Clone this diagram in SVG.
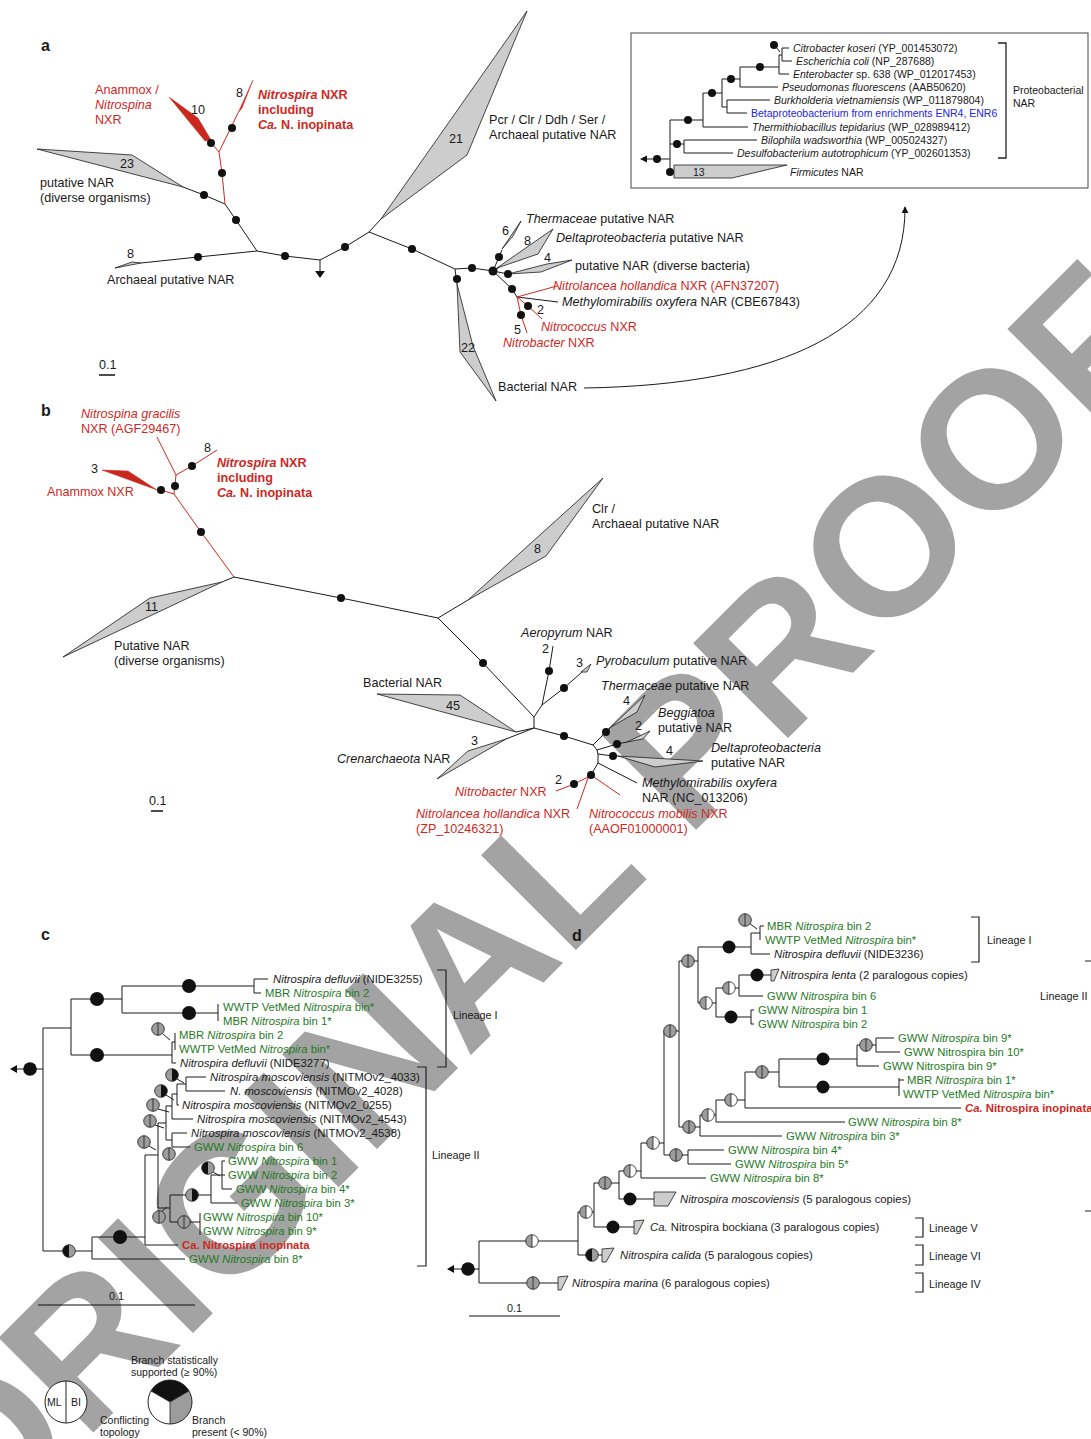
<svg xmlns="http://www.w3.org/2000/svg" width="1091" height="1439" viewBox="0 0 1091 1439">
<style>
text{font-family:"Liberation Sans",Arial,Helvetica,sans-serif;fill:#1a1a1a}
.s12{font-size:12.6px}
.s11{font-size:11.3px}
.s10{font-size:10.5px}
.sL{font-size:10.8px}
.lab{font-size:16px;font-weight:bold}
.r{fill:#d0281e}
.gr{fill:#1f7a1f}
.bl{fill:#2424e6}
.i{font-style:italic}
.b{font-weight:bold}
.ln{stroke:#1a1a1a;stroke-width:1;fill:none}
.rl{stroke:#d0281e;stroke-width:1;fill:none}
.wg{fill:#cdcdcd;stroke:#1a1a1a;stroke-width:0.8;stroke-linejoin:round}
.rw{fill:#c8281e;stroke:#c8281e;stroke-width:0.5}
.dt{fill:#111}
.wm{font-family:"Liberation Sans",Arial,sans-serif;font-weight:bold;fill:#a3a3a3}
</style>
<defs>
<g id="gg"><circle r="6.3" fill="#9c9c9c"/><path d="M0,-6.3V6.3" stroke="#1a1a1a" stroke-width="0.8"/><circle r="6.3" fill="none" stroke="#1a1a1a" stroke-width="0.8"/></g>
<g id="gw"><path d="M0,-6.3A6.3,6.3 0 0 0 0,6.3Z" fill="#9c9c9c"/><path d="M0,-6.3A6.3,6.3 0 0 1 0,6.3Z" fill="#fff"/><path d="M0,-6.3V6.3" stroke="#1a1a1a" stroke-width="0.8"/><circle r="6.3" fill="none" stroke="#1a1a1a" stroke-width="0.8"/></g>
<g id="gk"><path d="M0,-6.3A6.3,6.3 0 0 0 0,6.3Z" fill="#9c9c9c"/><path d="M0,-6.3A6.3,6.3 0 0 1 0,6.3Z" fill="#111"/><circle r="6.3" fill="none" stroke="#1a1a1a" stroke-width="0.8"/></g>
<g id="kg"><path d="M0,-6.3A6.3,6.3 0 0 0 0,6.3Z" fill="#111"/><path d="M0,-6.3A6.3,6.3 0 0 1 0,6.3Z" fill="#9c9c9c"/><circle r="6.3" fill="none" stroke="#1a1a1a" stroke-width="0.8"/></g>
<marker id="ah" viewBox="0 0 10 10" refX="9" refY="5" markerWidth="7" markerHeight="7" orient="auto"><path d="M0,0L10,5L0,10Z" fill="#111"/></marker>
</defs>

<g id="watermark"><text class="wm" font-size="195" transform="translate(-23,1549) rotate(-45)">ORIGINAL PROOF</text></g>

<!-- PANEL A -->
<g id="panel-a">
<text class="lab" x="41" y="51">a</text>
<g id="a-edges">
<polyline class="ln" points="183,187 204,195 225,204 236,220 257,251"/>
<polyline class="ln" points="257,251 198,257 141,263"/>
<polyline class="ln" points="257,251 285,256 320,260"/>
<line class="ln" x1="320" y1="260" x2="320" y2="272"/>
<polygon points="315,271 325,271 320,278" fill="#111"/>
<polyline class="ln" points="320,260 345,247 369,232 381,219"/>
<polyline class="ln" points="369,232 412,249 455,269 472,268 493,271"/>
<line class="ln" x1="455" y1="269" x2="457" y2="284"/>
<polyline class="ln" points="493,271 499,257 502,250"/>
<line class="ln" x1="493" y1="271" x2="498" y2="268"/>
<line class="ln" x1="493" y1="271" x2="508" y2="274"/>
<polyline class="ln" points="493,271 512,289 517,297 558,302"/>
<polyline class="rl" points="208,139 219,152 238,113"/>
<polyline class="rl" points="219,152 222,173 225,204"/>
<polyline class="rl" points="517,297 557,286"/>
<polyline class="rl" points="517,297 528,306 542,319"/>
<polyline class="rl" points="517,297 521,315 527,333"/>
<path class="ln" d="M584,388 C780,385 906,330 905,207" marker-end="url(#ah)"/>
</g>
<g id="a-anammox"><polygon class="rw" points="169,97 198,118 211,140 205,141"/><text class="s12" x="191" y="114">10</text>
<text class="s12 r" x="95" y="94">Anammox /</text><text class="s12 r i" x="95" y="109">Nitrospina</text><text class="s12 r" x="95" y="124">NXR</text></g>
<g id="a-nitrospira"><polygon class="rw" points="238,113 253,80 242,108"/><text class="s12" x="236" y="97">8</text>
<text class="s12 r b" x="258" y="99"><tspan class="i">Nitrospira</tspan> NXR</text><text class="s12 r b" x="258" y="114">including</text><text class="s12 r b" x="258" y="129"><tspan class="i">Ca.</tspan> N. inopinata</text></g>
<g id="a-putative"><polygon class="wg" points="37,149 132,155 183,187"/><text class="s12" x="120" y="168">23</text>
<text class="s12" x="40" y="187">putative NAR</text><text class="s12" x="40" y="202">(diverse organisms)</text></g>
<g id="a-archaeal"><polygon class="wg" points="115,268 132,262 141,263"/><text class="s12" x="127" y="258">8</text><text class="s12" x="107" y="284">Archaeal putative NAR</text></g>
<g id="a-pcr"><polygon class="wg" points="381,219 527,11 467,155"/><text class="s12" x="449" y="143">21</text>
<text class="s12" x="489" y="124">Pcr / Clr / Ddh / Ser /</text><text class="s12" x="489" y="139">Archaeal putative NAR</text></g>
<g id="a-bacterial"><polygon class="wg" points="457,284 460,352 496,401 473,346"/><text class="s12" x="461" y="352">22</text><text class="s12" x="498" y="391">Bacterial NAR</text></g>
<g id="a-thermaceae"><polygon class="wg" points="502,249 521,221 513,236"/><text class="s12" x="502" y="235">6</text><text class="s12" x="526" y="223"><tspan class="i">Thermaceae</tspan> putative NAR</text></g>
<g id="a-delta"><polygon class="wg" points="497,268 553,229 538,254"/><text class="s12" x="524" y="245">8</text><text class="s12" x="556" y="242"><tspan class="i">Deltaproteobacteria</tspan> putative NAR</text></g>
<g id="a-diverse"><polygon class="wg" points="508,274 547,264 572,260 541,272"/><text class="s12" x="544" y="262">4</text><text class="s12" x="575" y="270">putative NAR (diverse bacteria)</text></g>
<g id="a-nitrolancea"><text class="s12 r" x="553" y="290"><tspan class="i">Nitrolancea hollandica</tspan> NXR (AFN37207)</text></g>
<g id="a-methylo"><text class="s12" x="562" y="306"><tspan class="i">Methylomirabilis oxyfera</tspan> NAR (CBE67843)</text></g>
<g id="a-nitrococcus"><text class="s12" x="537" y="314">2</text><text class="s12 r" x="541" y="331"><tspan class="i">Nitrococcus</tspan> NXR</text></g>
<g id="a-nitrobacter"><text class="s12" x="514" y="334">5</text><text class="s12 r" x="503" y="347"><tspan class="i">Nitrobacter</tspan> NXR</text></g>
<g id="a-dots" class="dt">
<circle cx="211" cy="143" r="4"/><circle cx="232" cy="128" r="4"/><circle cx="222" cy="173" r="4"/><circle cx="204" cy="195" r="4"/><circle cx="236" cy="220" r="4"/><circle cx="198" cy="257" r="4"/><circle cx="285" cy="256" r="4"/><circle cx="345" cy="247" r="4"/><circle cx="412" cy="249" r="4"/><circle cx="457" cy="279" r="4"/><circle cx="472" cy="268" r="4"/><circle cx="493" cy="271" r="4.5"/><circle cx="499" cy="257" r="4"/><circle cx="508" cy="274" r="4"/><circle cx="512" cy="289" r="4"/><circle cx="521" cy="315" r="4"/><circle cx="528" cy="306" r="4"/>
</g>
<g id="a-scale"><text class="s12" x="99" y="369">0.1</text><line x1="99" y1="375" x2="115" y2="375" stroke="#111" stroke-width="1.5"/></g>

<g id="a-inset">
<rect x="631" y="33" width="457" height="155" fill="none" stroke="#444" stroke-width="1"/>
<g id="inset-edges" class="ln">
<line x1="645" y1="159" x2="670" y2="159"/>
<line x1="670" y1="120" x2="670" y2="172"/>
<line x1="670" y1="172" x2="674" y2="172"/>
<line x1="670" y1="120" x2="703" y2="120"/>
<line x1="703" y1="93" x2="703" y2="127"/>
<line x1="703" y1="127" x2="748" y2="127"/>
<line x1="703" y1="93" x2="722" y2="93"/>
<line x1="722" y1="79" x2="722" y2="107"/>
<line x1="722" y1="107" x2="727" y2="107"/>
<line x1="727" y1="100" x2="727" y2="113"/>
<line x1="727" y1="100" x2="770" y2="100"/>
<line x1="727" y1="113" x2="747" y2="113"/>
<line x1="722" y1="79" x2="740" y2="79"/>
<line x1="740" y1="67" x2="740" y2="87"/>
<line x1="740" y1="87" x2="778" y2="87"/>
<line x1="740" y1="67" x2="779" y2="67"/>
<line x1="779" y1="55" x2="779" y2="74"/>
<line x1="779" y1="74" x2="789" y2="74"/>
<line x1="779" y1="55" x2="782" y2="55"/>
<line x1="782" y1="48" x2="782" y2="61"/>
<line x1="782" y1="48" x2="789" y2="48"/>
<line x1="782" y1="61" x2="792" y2="61"/>
<line x1="776" y1="47" x2="780" y2="52"/>
<line x1="670" y1="144" x2="684" y2="144"/>
<line x1="684" y1="140" x2="684" y2="153"/>
<line x1="684" y1="140" x2="757" y2="140"/>
<line x1="684" y1="153" x2="733" y2="153"/>
</g>
<polygon points="640,159 647,155.5 647,162.5" fill="#111"/>
<g class="dt"><circle cx="657" cy="159" r="4"/><circle cx="670" cy="172" r="4"/><circle cx="677" cy="144" r="4"/><circle cx="688" cy="120" r="4"/><circle cx="712" cy="93" r="4"/><circle cx="731" cy="79" r="4"/><circle cx="760" cy="67" r="4"/><circle cx="774" cy="45" r="4"/></g>
<g id="inset-firmicutes"><polygon class="wg" points="674,165 787,165 732,178 674,178"/><text class="s10" x="693" y="176">13</text><text class="s10" x="790" y="176"><tspan class="i">Firmicutes</tspan> NAR</text></g>
<text class="s10" x="793" y="52"><tspan class="i">Citrobacter koseri</tspan> (YP_001453072)</text>
<text class="s10" x="796" y="65"><tspan class="i">Escherichia coli</tspan> (NP_287688)</text>
<text class="s10" x="793" y="78"><tspan class="i">Enterobacter</tspan> sp. 638 (WP_012017453)</text>
<text class="s10" x="782" y="91"><tspan class="i">Pseudomonas fluorescens</tspan> (AAB50620)</text>
<text class="s10" x="774" y="104"><tspan class="i">Burkholderia vietnamiensis</tspan> (WP_011879804)</text>
<text class="s10 bl" x="751" y="117">Betaproteobacterium from enrichments ENR4, ENR6</text>
<text class="s10" x="752" y="131"><tspan class="i">Thermithiobacillus tepidarius</tspan> (WP_028989412)</text>
<text class="s10" x="761" y="144"><tspan class="i">Bilophila wadsworthia</tspan> (WP_005024327)</text>
<text class="s10" x="737" y="157"><tspan class="i">Desulfobacterium autotrophicum</tspan> (YP_002601353)</text>
<path d="M998,43H1006V158H998" fill="none" stroke="#222" stroke-width="1.3"/>
<text class="s10" x="1013" y="94">Proteobacterial</text><text class="s10" x="1013" y="107">NAR</text>
</g>
</g>

<!-- PANEL B -->
<g id="panel-b">
<text class="lab" x="41" y="416">b</text>
<g id="b-edges">
<polyline class="rl" points="157,437 176,475 192,466 217,450"/>
<polyline class="rl" points="176,475 174,494 201,532 234,577"/>
<line class="rl" x1="161" y1="490" x2="174" y2="494"/>
<polyline class="ln" points="234,577 222,582"/>
<polyline class="ln" points="234,577 341,598 438,618 468,600"/>
<polyline class="ln" points="438,618 483,663 534,717 534,728"/>
<polyline class="ln" points="534,717 542,705 549,671 553,646"/>
<polyline class="ln" points="542,705 564,688 582,672"/>
<polyline class="ln" points="534,728 516,732"/>
<polyline class="ln" points="534,728 506,739"/>
<polyline class="ln" points="534,728 564,736 593,745 606,732 611,727"/>
<polyline class="ln" points="593,745 597,750 617,744 627,742"/>
<polyline class="ln" points="597,750 598,754 613,756 618,756"/>
<polyline class="ln" points="598,754 598,763 637,783"/>
<line class="ln" x1="598" y1="763" x2="591" y2="775"/>
<line class="rl" x1="591" y1="775" x2="620" y2="795"/>
<line class="rl" x1="588" y1="778" x2="577" y2="809"/>
<polyline class="rl" points="588,777 574,784 556,791"/>
</g>
<g id="b-gracilis"><text class="s12 r i" x="81" y="418">Nitrospina gracilis</text><text class="s12 r" x="81" y="433">NXR (AGF29467)</text></g>
<g id="b-nitrospira"><text class="s12" x="204" y="452">8</text><text class="s12 r b" x="217" y="467"><tspan class="i">Nitrospira</tspan> NXR</text><text class="s12 r b" x="217" y="482">including</text><text class="s12 r b" x="217" y="497"><tspan class="i">Ca.</tspan> N. inopinata</text></g>
<g id="b-anammox"><polygon class="rw" points="102,470 128,471 157,490"/><text class="s12" x="91" y="473">3</text><text class="s12 r" x="47" y="496">Anammox NXR</text></g>
<g id="b-putative"><polygon class="wg" points="222,582 150,598 63,657"/><text class="s12" x="145" y="611">11</text><text class="s12" x="114" y="650">Putative NAR</text><text class="s12" x="114" y="665">(diverse organisms)</text></g>
<g id="b-clr"><polygon class="wg" points="468,600 603,478 546,556"/><text class="s12" x="534" y="553">8</text><text class="s12" x="592" y="513">Clr /</text><text class="s12" x="592" y="528">Archaeal putative NAR</text></g>
<g id="b-aeropyrum"><text class="s12" x="521" y="637"><tspan class="i">Aeropyrum</tspan> NAR</text><text class="s12" x="542" y="653">2</text></g>
<g id="b-pyrobaculum"><polygon class="wg" points="581,672 591,664 587,672"/><text class="s12" x="576" y="667">3</text><text class="s12" x="596" y="665"><tspan class="i">Pyrobaculum</tspan> putative NAR</text></g>
<g id="b-thermaceae"><polygon class="wg" points="611,727 645,695 637,712"/><text class="s12" x="623" y="705">4</text><text class="s12" x="601" y="690"><tspan class="i">Thermaceae</tspan> putative NAR</text></g>
<g id="b-beggiatoa"><polygon class="wg" points="627,742 650,731 643,739"/><text class="s12" x="635" y="730">2</text><text class="s12 i" x="658" y="717">Beggiatoa</text><text class="s12" x="658" y="732">putative NAR</text></g>
<g id="b-bacterial"><polygon class="wg" points="377,694 460,695 516,732"/><text class="s12" x="446" y="710">45</text><text class="s12" x="363" y="687">Bacterial NAR</text></g>
<g id="b-crenarchaeota"><polygon class="wg" points="506,739 468,751 437,779"/><text class="s12" x="471" y="745">3</text><text class="s12" x="337" y="763"><tspan class="i">Crenarchaeota</tspan> NAR</text></g>
<g id="b-delta"><polygon class="wg" points="618,756 703,761 655,767"/><text class="s12" x="666" y="755">4</text><text class="s12 i" x="711" y="752">Deltaproteobacteria</text><text class="s12" x="711" y="767">putative NAR</text></g>
<g id="b-methylo"><text class="s12 i" x="642" y="787">Methylomirabilis oxyfera</text><text class="s12" x="642" y="802">NAR (NC_013206)</text></g>
<g id="b-nitrobacter"><text class="s12" x="555" y="784">2</text><text class="s12 r" x="455" y="796"><tspan class="i">Nitrobacter</tspan> NXR</text></g>
<g id="b-nitrolancea"><text class="s12 r" x="416" y="818"><tspan class="i">Nitrolancea hollandica</tspan> NXR</text><text class="s12 r" x="416" y="833">(ZP_10246321)</text></g>
<g id="b-nitrococcus"><text class="s12 r" x="589" y="818"><tspan class="i">Nitrococcus mobilis</tspan> NXR</text><text class="s12 r" x="589" y="833">(AAOF01000001)</text></g>
<g id="b-dots" class="dt">
<circle cx="161" cy="490" r="4"/><circle cx="175" cy="486" r="4"/><circle cx="192" cy="466" r="4"/><circle cx="201" cy="532" r="4"/><circle cx="341" cy="598" r="4"/><circle cx="483" cy="663" r="4"/><circle cx="549" cy="671" r="4"/><circle cx="564" cy="688" r="4"/><circle cx="564" cy="736" r="4"/><circle cx="606" cy="732" r="4"/><circle cx="617" cy="744" r="4"/><circle cx="613" cy="756" r="4"/><circle cx="591" cy="775" r="4"/><circle cx="574" cy="784" r="4"/>
</g>
<g id="b-scale"><text class="s12" x="149" y="805">0.1</text><line x1="151" y1="811" x2="163" y2="811" stroke="#111" stroke-width="1.5"/></g>
</g>

<!-- PANEL C -->
<g id="panel-c">
<text class="lab" x="41" y="940">c</text>
<g id="c-edges" class="ln">
<line x1="12" y1="1069" x2="43" y2="1069"/>
<line x1="43" y1="1028" x2="43" y2="1251"/>
<line x1="43" y1="1028" x2="71" y2="1028"/>
<line x1="71" y1="999" x2="71" y2="1055"/>
<line x1="71" y1="999" x2="122" y2="999"/>
<line x1="122" y1="986" x2="122" y2="1013"/>
<line x1="122" y1="986" x2="254" y2="986"/>
<line x1="254" y1="979" x2="254" y2="993"/>
<line x1="254" y1="979" x2="268" y2="979"/>
<line x1="254" y1="993" x2="261" y2="993"/>
<line x1="122" y1="1013" x2="218" y2="1013"/>
<line x1="218" y1="1004" x2="218" y2="1021"/>
<line x1="71" y1="1055" x2="172" y2="1055"/>
<line x1="172" y1="1042" x2="172" y2="1063"/>
<line x1="172" y1="1042" x2="175" y2="1042"/>
<line x1="175" y1="1033" x2="175" y2="1050"/>
<line x1="172" y1="1063" x2="176" y2="1063"/>
<line x1="163" y1="1034" x2="170" y2="1040"/>
<line x1="186" y1="1077" x2="186" y2="1091"/>
<line x1="186" y1="1077" x2="206" y2="1077"/>
<line x1="186" y1="1091" x2="225" y2="1091"/>
<line x1="177" y1="1084" x2="186" y2="1084"/>
<line x1="177" y1="1084" x2="177" y2="1105"/>
<line x1="177" y1="1105" x2="179" y2="1105"/>
<line x1="172" y1="1094" x2="177" y2="1094"/>
<line x1="172" y1="1094" x2="172" y2="1119"/>
<line x1="172" y1="1119" x2="193" y2="1119"/>
<line x1="172" y1="1133" x2="172" y2="1147"/>
<line x1="172" y1="1133" x2="187" y2="1133"/>
<line x1="172" y1="1147" x2="190" y2="1147"/>
<line x1="166" y1="1106" x2="166" y2="1140"/>
<line x1="166" y1="1106" x2="172" y2="1106"/>
<line x1="166" y1="1140" x2="172" y2="1140"/>
<line x1="222" y1="1161" x2="222" y2="1189"/>
<line x1="222" y1="1161" x2="225" y2="1161"/>
<line x1="222" y1="1175" x2="225" y2="1175"/>
<line x1="222" y1="1189" x2="232" y2="1189"/>
<line x1="211" y1="1175" x2="222" y2="1175"/>
<line x1="211" y1="1175" x2="211" y2="1203"/>
<line x1="211" y1="1203" x2="237" y2="1203"/>
<line x1="200" y1="1213" x2="200" y2="1235"/>
<line x1="170" y1="1195" x2="211" y2="1195"/>
<line x1="170" y1="1195" x2="170" y2="1222"/>
<line x1="170" y1="1222" x2="200" y2="1222"/>
<line x1="158" y1="1123" x2="166" y2="1123"/>
<line x1="158" y1="1123" x2="158" y2="1208"/>
<line x1="158" y1="1208" x2="170" y2="1208"/>
<line x1="145" y1="1155" x2="158" y2="1155"/>
<line x1="145" y1="1155" x2="145" y2="1245"/>
<line x1="145" y1="1245" x2="178" y2="1245"/>
<line x1="92" y1="1237" x2="145" y2="1237"/>
<line x1="92" y1="1237" x2="92" y2="1259"/>
<line x1="92" y1="1259" x2="185" y2="1259"/>
<line x1="43" y1="1251" x2="92" y2="1251"/>
<line x1="177" y1="1079" x2="184" y2="1083"/>
<line x1="166" y1="1095" x2="174" y2="1100"/>
<line x1="158" y1="1109" x2="169" y2="1112"/>
<line x1="155" y1="1125" x2="164" y2="1128"/>
<line x1="149" y1="1146" x2="156" y2="1150"/>
<line x1="170" y1="1148" x2="171" y2="1148"/>
<line x1="213" y1="1172" x2="220" y2="1176"/>
<line x1="162" y1="1211" x2="167" y2="1207"/>
</g>
<polygon points="10,1069 17,1065 17,1073" fill="#111"/>
<g id="c-nodes">
<circle cx="30" cy="1069" r="6.8" class="dt"/>
<circle cx="97" cy="999" r="7" class="dt"/><circle cx="97" cy="1055" r="7" class="dt"/>
<circle cx="189" cy="986" r="7" class="dt"/><circle cx="189" cy="1013" r="7" class="dt"/>
<circle cx="120" cy="1237" r="7" class="dt"/>
<use href="#gg" x="158" y="1029"/>
<use href="#gk" x="172" y="1075"/>
<use href="#gk" x="161" y="1091"/>
<use href="#gg" x="153" y="1105"/>
<use href="#gg" x="150" y="1121"/>
<use href="#gg" x="144" y="1142"/>
<use href="#gg" x="169" y="1154"/>
<use href="#kg" x="208" y="1168"/>
<use href="#gk" x="192" y="1195"/>
<use href="#gg" x="159" y="1217"/>
<use href="#gg" x="184" y="1222"/>
<use href="#kg" x="69" y="1251"/>
</g>
<g id="c-labels" class="s11">
<text x="273" y="983"><tspan class="i">Nitrospira defluvii</tspan> (NIDE3255)</text>
<text class="gr" x="265" y="997">MBR <tspan class="i">Nitrospira</tspan> bin 2</text>
<text class="gr" x="223" y="1011">WWTP VetMed <tspan class="i">Nitrospira</tspan> bin*</text>
<text class="gr" x="223" y="1025">MBR <tspan class="i">Nitrospira</tspan> bin 1*</text>
<text class="gr" x="179" y="1039">MBR <tspan class="i">Nitrospira</tspan> bin 2</text>
<text class="gr" x="179" y="1053">WWTP VetMed <tspan class="i">Nitrospira</tspan> bin*</text>
<text x="180" y="1067"><tspan class="i">Nitrospira defluvii</tspan> (NIDE3277)</text>
<text x="210" y="1081"><tspan class="i">Nitrospira moscoviensis</tspan> (NITMOv2_4033)</text>
<text x="230" y="1095"><tspan class="i">N. moscoviensis</tspan> (NITMOv2_4028)</text>
<text x="182" y="1109"><tspan class="i">Nitrospira moscoviensis</tspan> (NITMOv2_0255)</text>
<text x="197" y="1123"><tspan class="i">Nitrospira moscoviensis</tspan> (NITMOv2_4543)</text>
<text x="191" y="1137"><tspan class="i">Nitrospira moscoviensis</tspan> (NITMOv2_4538)</text>
<text class="gr" x="194" y="1151">GWW <tspan class="i">Nitrospira</tspan> bin 6</text>
<text class="gr" x="228" y="1165">GWW <tspan class="i">Nitrospira</tspan> bin 1</text>
<text class="gr" x="228" y="1179">GWW <tspan class="i">Nitrospira</tspan> bin 2</text>
<text class="gr" x="236" y="1193">GWW <tspan class="i">Nitrospira</tspan> bin 4*</text>
<text class="gr" x="241" y="1207">GWW <tspan class="i">Nitrospira</tspan> bin 3*</text>
<text class="gr" x="203" y="1221">GWW <tspan class="i">Nitrospira</tspan> bin 10*</text>
<text class="gr" x="203" y="1235">GWW <tspan class="i">Nitrospira</tspan> bin 9*</text>
<text class="r b" x="182" y="1249">Ca. Nitrospira inopinata</text>
<text class="gr" x="189" y="1263">GWW <tspan class="i">Nitrospira</tspan> bin 8*</text>
</g>
<g id="c-brackets">
<path d="M437,970H446V1067H437" fill="none" stroke="#222" stroke-width="1.2"/>
<text class="sL" x="453" y="1019">Lineage I</text>
<path d="M417,1067H426V1266H417" fill="none" stroke="#222" stroke-width="1.2"/>
<text class="sL" x="432" y="1159">Lineage II</text>
</g>
<g id="c-scale"><text class="sL" x="109" y="1300">0.1</text><line x1="38" y1="1305" x2="195" y2="1305" stroke="#111" stroke-width="1"/></g>
</g>

<!-- PANEL D -->
<g id="panel-d">
<text class="lab" x="572" y="941">d</text>
<g id="d-edges" class="ln">
<line x1="452" y1="1269" x2="479" y2="1269"/>
<line x1="479" y1="1241" x2="479" y2="1283"/>
<line x1="479" y1="1283" x2="558" y2="1283"/>
<line x1="479" y1="1241" x2="578" y2="1241"/>
<line x1="578" y1="1212" x2="578" y2="1255"/>
<line x1="578" y1="1255" x2="602" y2="1255"/>
<line x1="578" y1="1212" x2="594" y2="1212"/>
<line x1="594" y1="1183" x2="594" y2="1227"/>
<line x1="594" y1="1227" x2="634" y2="1227"/>
<line x1="594" y1="1183" x2="619" y2="1183"/>
<line x1="619" y1="1171" x2="619" y2="1199"/>
<line x1="619" y1="1199" x2="654" y2="1199"/>
<line x1="619" y1="1171" x2="641" y2="1171"/>
<line x1="641" y1="1143" x2="641" y2="1178"/>
<line x1="641" y1="1178" x2="706" y2="1178"/>
<line x1="641" y1="1143" x2="664" y2="1143"/>
<line x1="664" y1="1031" x2="664" y2="1155"/>
<line x1="664" y1="1155" x2="688" y2="1155"/>
<line x1="688" y1="1150" x2="688" y2="1164"/>
<line x1="688" y1="1150" x2="724" y2="1150"/>
<line x1="688" y1="1164" x2="731" y2="1164"/>
<line x1="664" y1="1031" x2="679" y2="1031"/>
<line x1="679" y1="961" x2="679" y2="1127"/>
<line x1="679" y1="1127" x2="700" y2="1127"/>
<line x1="700" y1="1115" x2="700" y2="1136"/>
<line x1="700" y1="1136" x2="782" y2="1136"/>
<line x1="700" y1="1115" x2="716" y2="1115"/>
<line x1="716" y1="1100" x2="716" y2="1122"/>
<line x1="716" y1="1122" x2="845" y2="1122"/>
<line x1="716" y1="1100" x2="745" y2="1100"/>
<line x1="745" y1="1072" x2="745" y2="1108"/>
<line x1="745" y1="1108" x2="961" y2="1108"/>
<line x1="745" y1="1072" x2="779" y2="1072"/>
<line x1="779" y1="1059" x2="779" y2="1087"/>
<line x1="779" y1="1059" x2="857" y2="1059"/>
<line x1="857" y1="1045" x2="857" y2="1066"/>
<line x1="857" y1="1066" x2="879" y2="1066"/>
<line x1="857" y1="1045" x2="876" y2="1045"/>
<line x1="876" y1="1038" x2="876" y2="1052"/>
<line x1="876" y1="1038" x2="894" y2="1038"/>
<line x1="876" y1="1052" x2="900" y2="1052"/>
<line x1="779" y1="1087" x2="899" y2="1087"/>
<line x1="899" y1="1078" x2="899" y2="1096"/>
<line x1="899" y1="1080" x2="904" y2="1080"/>
<line x1="679" y1="961" x2="698" y2="961"/>
<line x1="698" y1="947" x2="698" y2="1003"/>
<line x1="698" y1="947" x2="751" y2="947"/>
<line x1="751" y1="933" x2="751" y2="954"/>
<line x1="751" y1="954" x2="770" y2="954"/>
<line x1="751" y1="933" x2="760" y2="933"/>
<line x1="760" y1="926" x2="760" y2="940"/>
<line x1="760" y1="926" x2="764" y2="926"/>
<line x1="749" y1="923" x2="757" y2="929"/>
<line x1="698" y1="1003" x2="716" y2="1003"/>
<line x1="716" y1="988" x2="716" y2="1017"/>
<line x1="716" y1="988" x2="739" y2="988"/>
<line x1="739" y1="975" x2="739" y2="996"/>
<line x1="739" y1="975" x2="771" y2="975"/>
<line x1="739" y1="996" x2="763" y2="996"/>
<line x1="716" y1="1017" x2="751" y2="1017"/>
<line x1="751" y1="1010" x2="751" y2="1024"/>
<line x1="751" y1="1010" x2="754" y2="1010"/>
<line x1="751" y1="1024" x2="754" y2="1024"/>
</g>
<polygon points="447,1269 454,1265 454,1273" fill="#111"/>
<g id="d-wedges">
<polygon class="wg" points="771,970 779,969 774,981 771,981"/>
<polygon class="wg" points="654,1192 676,1192 668,1206 654,1206"/>
<polygon class="wg" points="634,1221 644,1220 637,1234 634,1234"/>
<polygon class="wg" points="602,1249 614,1248 606,1262 602,1262"/>
<polygon class="wg" points="558,1277 568,1276 561,1290 558,1290"/>
</g>
<g id="d-nodes">
<circle cx="468" cy="1269" r="6.8" class="dt"/>
<circle cx="729" cy="947" r="6.5" class="dt"/>
<circle cx="757" cy="975" r="6.5" class="dt"/>
<circle cx="731" cy="1017" r="6.5" class="dt"/>
<circle cx="823" cy="1059" r="6.5" class="dt"/>
<circle cx="823" cy="1087" r="6.5" class="dt"/>
<circle cx="630" cy="1199" r="6.5" class="dt"/>
<circle cx="613" cy="1227" r="6.5" class="dt"/>
<use href="#gg" x="745" y="920"/>
<use href="#gg" x="688" y="961"/>
<use href="#gw" x="729" y="988"/>
<use href="#gw" x="706" y="1003"/>
<use href="#gg" x="670" y="1031"/>
<use href="#gg" x="866" y="1045"/>
<use href="#gg" x="762" y="1072"/>
<use href="#gw" x="731" y="1100"/>
<use href="#gw" x="708" y="1115"/>
<use href="#gg" x="689" y="1127"/>
<use href="#gw" x="653" y="1143"/>
<use href="#gg" x="676" y="1155"/>
<use href="#gw" x="630" y="1171"/>
<use href="#gg" x="605" y="1183"/>
<use href="#gw" x="586" y="1212"/>
<use href="#kg" x="592" y="1255"/>
<use href="#gw" x="532" y="1241"/>
<use href="#gg" x="533" y="1283"/>
</g>
<g id="d-labels" class="s11">
<text class="gr" x="767" y="930">MBR <tspan class="i">Nitrospira</tspan> bin 2</text>
<text class="gr" x="765" y="944">WWTP VetMed <tspan class="i">Nitrospira</tspan> bin*</text>
<text x="774" y="958"><tspan class="i">Nitrospira defluvii</tspan> (NIDE3236)</text>
<text x="780" y="979"><tspan class="i">Nitrospira lenta</tspan> (2 paralogous copies)</text>
<text class="gr" x="767" y="1000">GWW <tspan class="i">Nitrospira</tspan> bin 6</text>
<text class="gr" x="758" y="1014">GWW <tspan class="i">Nitrospira</tspan> bin 1</text>
<text class="gr" x="758" y="1028">GWW <tspan class="i">Nitrospira</tspan> bin 2</text>
<text class="gr" x="898" y="1042">GWW <tspan class="i">Nitrospira</tspan> bin 9*</text>
<text class="gr" x="904" y="1056">GWW Nitrospira bin 10*</text>
<text class="gr" x="883" y="1070">GWW Nitrospira bin 9*</text>
<text class="gr" x="907" y="1084">MBR <tspan class="i">Nitrospira</tspan> bin 1*</text>
<text class="gr" x="903" y="1098">WWTP VetMed <tspan class="i">Nitrospira</tspan> bin*</text>
<text class="r b" x="965" y="1112"><tspan class="i">Ca.</tspan> Nitrospira inopinata</text>
<text class="gr" x="848" y="1126">GWW <tspan class="i">Nitrospira</tspan> bin 8*</text>
<text class="gr" x="786" y="1140">GWW <tspan class="i">Nitrospira</tspan> bin 3*</text>
<text class="gr" x="728" y="1154">GWW <tspan class="i">Nitrospira</tspan> bin 4*</text>
<text class="gr" x="735" y="1168">GWW <tspan class="i">Nitrospira</tspan> bin 5*</text>
<text class="gr" x="710" y="1182">GWW <tspan class="i">Nitrospira</tspan> bin 8*</text>
<text x="680" y="1203"><tspan class="i">Nitrospira moscoviensis</tspan> (5 paralogous copies)</text>
<text x="650" y="1231"><tspan class="i">Ca.</tspan> Nitrospira bockiana (3 paralogous copies)</text>
<text x="620" y="1259"><tspan class="i">Nitrospira calida</tspan> (5 paralogous copies)</text>
<text x="572" y="1287"><tspan class="i">Nitrospira marina</tspan> (6 paralogous copies)</text>
</g>
<g id="d-brackets" fill="none" stroke="#222" stroke-width="1.2">
<path d="M971,917H979V962H971"/>
<path d="M1085,961H1091M1085,1211H1091"/>
<path d="M915,1218H923V1237H915"/>
<path d="M915,1245H923V1265H915"/>
<path d="M915,1273H923V1292H915"/>
</g>
<text class="sL" x="987" y="944">Lineage I</text>
<text class="sL" x="1040" y="1000">Lineage II</text>
<text class="sL" x="929" y="1232">Lineage V</text>
<text class="sL" x="929" y="1260">Lineage VI</text>
<text class="sL" x="929" y="1288">Lineage IV</text>
<g id="d-scale"><text class="sL" x="507" y="1312">0.1</text><line x1="469" y1="1316" x2="560" y2="1316" stroke="#111" stroke-width="1"/></g>
</g>

<!-- LEGEND -->
<g id="legend">
<g id="legend-mlbi"><circle cx="66" cy="1402" r="21" fill="#fff" stroke="#222" stroke-width="1"/><line x1="66" y1="1381" x2="66" y2="1423" stroke="#222" stroke-width="1"/>
<text class="s10" x="47" y="1406">ML</text><text class="s10" x="71" y="1406">BI</text></g>
<g id="legend-pie">
<path d="M170,1402L151,1391A22,22 0 0 1 189,1391Z" fill="#111"/>
<path d="M170,1402L189,1391A22,22 0 0 1 170,1424Z" fill="#9c9c9c"/>
<path d="M170,1402L170,1424A22,22 0 0 1 151,1391Z" fill="#fff"/>
<path d="M151,1391L170,1402L189,1391M170,1402V1424" fill="none" stroke="#222" stroke-width="0.8"/>
<circle cx="170" cy="1402" r="22" fill="none" stroke="#222" stroke-width="1"/>
</g>
<text class="s10" x="131" y="1364">Branch statistically</text>
<text class="s10" x="131" y="1376">supported (≥ 90%)</text>
<text class="s10" x="100" y="1424">Conflicting</text>
<text class="s10" x="100" y="1436">topology</text>
<text class="s10" x="192" y="1424">Branch</text>
<text class="s10" x="192" y="1436">present (&lt; 90%)</text>
</g>
</svg>
